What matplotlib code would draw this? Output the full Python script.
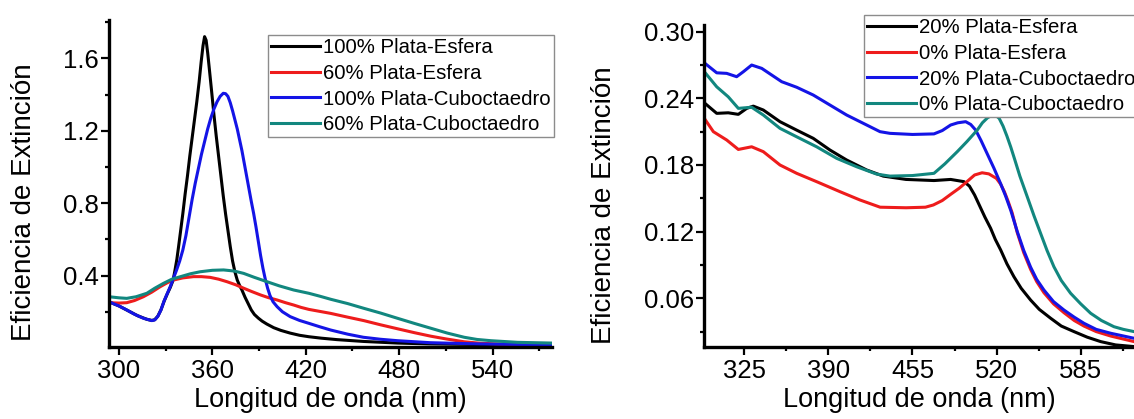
import matplotlib
matplotlib.use("Agg")
import matplotlib.pyplot as plt
from matplotlib.ticker import MultipleLocator, AutoMinorLocator, FormatStrFormatter

# === 字体 ===
plt.rcParams["font.family"] = ["Liberation Sans", "DejaVu Sans"]

# === 左图数据 (60% / 100% 银) ===
wl_a_black = [293.6, 300, 306, 312, 318, 321.1, 323, 325, 327, 329, 331, 333, 334.8, 336, 337.2,
              338.3, 339.5, 341, 342.5, 344, 345.5, 347, 348.5, 350, 351.5, 352.8, 354, 355,
              356, 357, 358.2, 359.5, 361, 362.5, 364, 365.5, 367, 368.5, 370, 371.5, 373,
              374.5, 376, 377.5, 379, 381, 383, 385, 387, 389.5, 392, 395, 399.4, 404, 410, 416,
              422, 430, 440, 457, 479, 500, 540, 578]
ext_a_black = [0.255, 0.232, 0.205, 0.178, 0.158, 0.152, 0.156, 0.176, 0.211, 0.258, 0.298,
               0.335, 0.375, 0.43, 0.49, 0.56, 0.64, 0.74, 0.85, 0.95, 1.06, 1.16, 1.26, 1.36,
               1.47, 1.58, 1.67, 1.72, 1.70, 1.63, 1.53, 1.42, 1.29, 1.17, 1.06, 0.95, 0.84,
               0.74, 0.65, 0.56, 0.48, 0.42, 0.375, 0.345, 0.32, 0.28, 0.245, 0.21, 0.185,
               0.165, 0.148, 0.132, 0.112, 0.097, 0.082, 0.07, 0.062, 0.054, 0.046, 0.036,
               0.027, 0.022, 0.018, 0.016]

wl_a_red = [293.6, 300, 305, 310, 315.7, 321, 326.4, 331, 334.9, 341, 347.9, 353, 358.6, 364,
            369.4, 375, 380.1, 385.5, 390.9, 396, 401.6, 407, 412.3, 417, 422, 429, 436, 447,
            457.3, 468, 478.9, 490, 500.3, 510, 521.8, 532, 543.3, 560, 578]
ext_a_red = [0.25, 0.248, 0.25, 0.262, 0.283, 0.308, 0.338, 0.36, 0.375, 0.387, 0.394, 0.394,
             0.39, 0.38, 0.366, 0.349, 0.33, 0.311, 0.293, 0.278, 0.265, 0.25, 0.237, 0.224,
             0.213, 0.202, 0.191, 0.17, 0.151, 0.128, 0.106, 0.084, 0.065, 0.05, 0.034, 0.026,
             0.022, 0.019, 0.017]

wl_a_blue = [293.6, 300, 305, 310, 315.7, 321.1, 323, 325, 327, 329, 331, 333, 335, 337, 339,
             341, 343, 345, 347, 349, 351, 353, 355, 357, 359, 361, 363, 365, 367, 368.5, 370,
             371.5, 373, 374.5, 376, 377.5, 379, 380.5, 382, 383.5, 385, 386.5, 388, 389.5,
             391, 392.5, 394, 395.5, 397, 399, 401.6, 405, 410, 416, 422, 429, 436, 447, 457,
             468, 479, 500, 532, 578]
ext_a_blue = [0.255, 0.232, 0.21, 0.186, 0.164, 0.151, 0.155, 0.175, 0.21, 0.26, 0.30, 0.34,
              0.385, 0.43, 0.48, 0.54, 0.62, 0.72, 0.82, 0.91, 0.99, 1.07, 1.14, 1.21, 1.27,
              1.32, 1.36, 1.39, 1.407, 1.405, 1.39, 1.355, 1.31, 1.26, 1.21, 1.15, 1.09, 1.02,
              0.95, 0.88, 0.81, 0.744, 0.67, 0.59, 0.51, 0.44, 0.38, 0.33, 0.29, 0.255, 0.228,
              0.20, 0.173, 0.152, 0.136, 0.117, 0.099, 0.076, 0.059, 0.048, 0.04, 0.029, 0.022,
              0.017]

wl_a_teal = [293.6, 300, 305, 311, 317.9, 323, 328.6, 334, 339.6, 346, 352.2, 360, 367.2, 374,
             380.1, 387, 395.1, 403, 412.3, 422, 429, 436, 447, 457.3, 468, 478.9, 490, 500.3,
             511, 521.8, 530, 539, 556.1, 578]
ext_a_teal = [0.283, 0.277, 0.274, 0.283, 0.302, 0.33, 0.357, 0.38, 0.394, 0.41, 0.421, 0.429,
              0.431, 0.425, 0.412, 0.39, 0.366, 0.343, 0.32, 0.302, 0.286, 0.269, 0.245, 0.219,
              0.193, 0.164, 0.135, 0.109, 0.082, 0.059, 0.047, 0.04, 0.031, 0.027]

labels_a = ["100% Plata-Esfera", "60% Plata-Esfera", "100% Plata-Cuboctaedro", "60% Plata-Cuboctaedro"]

# === 右图数据 (0% / 20% 银) ===
wl_b_black = [294.1, 303.7, 312.6, 320.4, 326.9, 332, 339.7, 352.6, 365.5, 378.3, 391.2, 404.1,
              419.6, 432.4, 450, 471.6, 484.5, 494.8, 499, 503, 507, 511, 515.4, 519, 523.2,
              528, 533.4, 539, 546.3, 553, 561.8, 570, 579.8, 590, 600.4, 612, 626.2]
ext_b_black = [0.236, 0.2265, 0.227, 0.2256, 0.231, 0.233, 0.2295, 0.219, 0.2114, 0.204, 0.1935,
               0.1845, 0.1755, 0.170, 0.167, 0.166, 0.167, 0.165, 0.161, 0.153, 0.143, 0.133,
               0.123, 0.113, 0.1034, 0.091, 0.0794, 0.069, 0.0584, 0.050, 0.042, 0.035, 0.030,
               0.025, 0.021, 0.018, 0.0165]

wl_b_red = [294.1, 301.1, 311.4, 320.4, 330.7, 339.7, 352.6, 365.5, 380.9, 398.9, 414.4, 430,
            450, 465, 471.1, 478, 485, 491, 496.1, 503, 508.8, 514, 519.8, 523, 526, 529, 532,
            536, 541, 546.3, 551, 556.6, 564, 572.1, 580, 587.5, 597, 608.2, 626.2]
ext_b_red = [0.222, 0.210, 0.2025, 0.194, 0.1964, 0.192, 0.180, 0.1725, 0.165, 0.156, 0.1485,
             0.142, 0.1415, 0.142, 0.144, 0.148, 0.154, 0.159, 0.164, 0.171, 0.173, 0.172, 0.168,
             0.163, 0.156, 0.147, 0.137, 0.119, 0.101, 0.086, 0.075, 0.065, 0.055, 0.047, 0.040,
             0.035, 0.030, 0.026, 0.021]

wl_b_blue = [294.1, 303.7, 311.4, 319.1, 324.3, 330.7, 338.5, 346.2, 353.9, 365.5, 378.3, 391.2,
             404.1, 419.6, 429.9, 437.6, 455, 471.6, 478, 484.5, 490, 496.1, 500, 503.8, 508,
             512.8, 518, 523.2, 527, 531, 536, 541, 546.3, 551, 556.6, 564, 572.1, 580, 587.5,
             597, 608.2, 626.2]
ext_b_blue = [0.272, 0.263, 0.2625, 0.2595, 0.264, 0.270, 0.267, 0.261, 0.255, 0.250, 0.243,
              0.234, 0.225, 0.216, 0.210, 0.2085, 0.2075, 0.208, 0.211, 0.216, 0.218, 0.219,
              0.2165, 0.2115, 0.202, 0.190, 0.177, 0.163, 0.152, 0.139, 0.12, 0.103, 0.088,
              0.077, 0.0674, 0.057, 0.0494, 0.043, 0.0375, 0.032, 0.0285, 0.024]

wl_b_teal = [294.1, 303.7, 312.6, 320.4, 330.7, 339.7, 352.6, 365.5, 380.9, 396.4, 411.9, 427.3,
             437.6, 455, 471.6, 480, 489.6, 497, 505.1, 509, 513, 516.7, 519.5, 522, 525, 528,
             531, 534, 538, 543.7, 549, 554, 559, 564.3, 570, 577.2, 585, 592.7, 601, 610.7,
             618, 626.2]
ext_b_teal = [0.264, 0.2504, 0.2414, 0.231, 0.232, 0.225, 0.213, 0.2054, 0.1964, 0.186, 0.1784,
              0.1718, 0.170, 0.1705, 0.1725, 0.181, 0.192, 0.201, 0.2115, 0.218, 0.2225, 0.225,
              0.2245, 0.222, 0.215, 0.206, 0.196, 0.185, 0.17, 0.1514, 0.134, 0.1185, 0.103,
              0.0884, 0.076, 0.0645, 0.055, 0.0465, 0.040, 0.0344, 0.032, 0.030]

labels_b = ["20% Plata-Esfera", "0% Plata-Esfera", "20% Plata-Cuboctaedro", "0% Plata-Cuboctaedro"]

colors = ["#000000", "#ee1c1c", "#1414e6", "#12877f"]

# === 画布 (像素) ===
W, H = 1134, 419
fig = plt.figure(figsize=(W / 100, H / 100), dpi=100)

def px_axes(x0, y_top, x1, y_bot):
    return fig.add_axes([x0 / W, 1 - y_bot / H, (x1 - x0) / W, (y_bot - y_top) / H])

ax1 = px_axes(109, 20, 551.7, 346.5)
ax2 = px_axes(704.3, 25.5, 1134, 346.7)

lw = 2.2
for wl, ext, c, lab in zip([wl_a_black, wl_a_red, wl_a_blue, wl_a_teal],
                           [ext_a_black, ext_a_red, ext_a_blue, ext_a_teal], colors, labels_a):
    ax1.plot(wl, ext, color=c, lw=lw, label=lab, solid_joinstyle="round")
for wl, ext, c, lab in zip([wl_b_black, wl_b_red, wl_b_blue, wl_b_teal],
                           [ext_b_black, ext_b_red, ext_b_blue, ext_b_teal], colors, labels_b):
    ax2.plot(wl, ext, color=c, lw=lw, label=lab, solid_joinstyle="round")

ax1.set_xlim(293.6, 578)
ax1.set_ylim(0.008, 1.812)
ax1.xaxis.set_major_locator(MultipleLocator(60))
ax1.yaxis.set_major_locator(MultipleLocator(0.4))
ax1.yaxis.set_major_formatter(FormatStrFormatter("%.1f"))

ax2.set_xlim(294.1, 626.2)
ax2.set_ylim(0.0164, 0.3056)
ax2.xaxis.set_major_locator(MultipleLocator(65))
ax2.yaxis.set_major_locator(MultipleLocator(0.06))
ax2.yaxis.set_major_formatter(FormatStrFormatter("%.2f"))

for ax in (ax1, ax2):
    ax.xaxis.set_minor_locator(AutoMinorLocator(2))
    ax.yaxis.set_minor_locator(AutoMinorLocator(2))
    for s in ("top", "right"):
        ax.spines[s].set_visible(False)
    for s in ("left", "bottom"):
        ax.spines[s].set_linewidth(2.4)
    ax.tick_params(which="major", direction="out", length=5.5, width=1.6, labelsize=18.5, pad=2)
    ax.tick_params(axis="x", which="major", pad=3.5)
    ax.tick_params(which="minor", direction="out", length=3, width=1.6)
    ax.set_xlabel("Longitud de onda (nm)", fontsize=19.5, labelpad=3)
    ax.set_ylabel("Eficiencia de Extinción", fontsize=20)

# === y 轴标签位置 ===
ax1.yaxis.set_label_coords((37 - 109) / 442.7, 1 - (202 - 20) / 326.5)
ax2.yaxis.set_label_coords((617 - 704.3) / 429.7, 1 - (205 - 25.5) / 321.2)

leg_kw = dict(fontsize=14.7, frameon=True, fancybox=False, framealpha=1, edgecolor="#8c8c8c",
              borderaxespad=0, borderpad=0.15, handlelength=2.4, handletextpad=0.15,
              labelspacing=0.33, loc="upper left")
l1 = ax1.legend(bbox_to_anchor=(268 / W, 1 - 35 / H), bbox_transform=fig.transFigure, **leg_kw)
l2 = ax2.legend(bbox_to_anchor=(864 / W, 1 - 15 / H), bbox_transform=fig.transFigure, **leg_kw)
for l in (l1, l2):
    l.get_frame().set_linewidth(1.0)
    for h in l.get_lines():
        h.set_linewidth(2.2)

fig.savefig("out.png", dpi=100)
